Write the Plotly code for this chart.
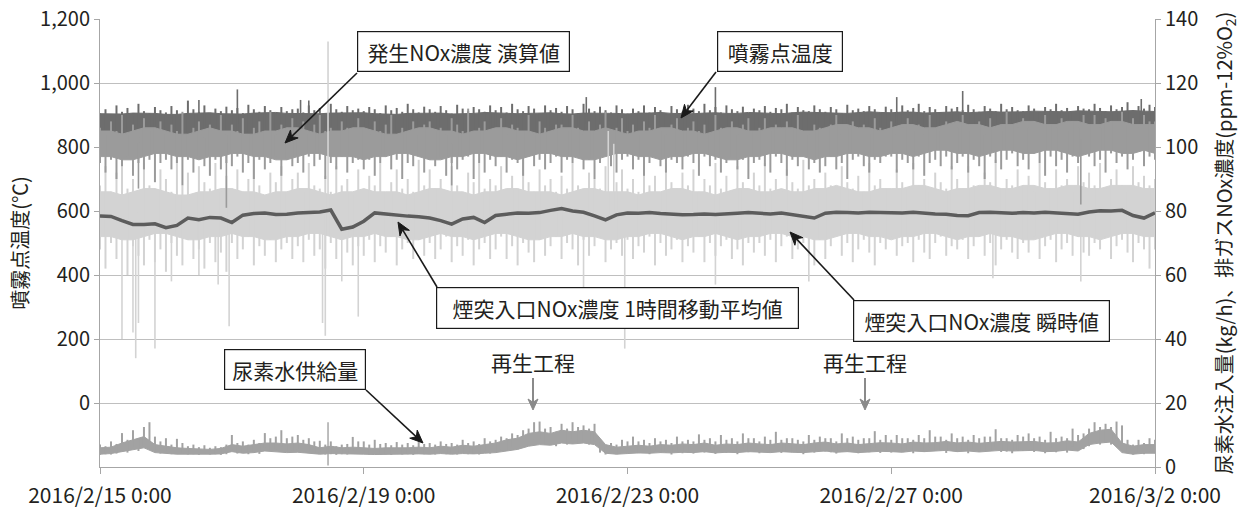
import pandas as pd
import plotly.graph_objects as go

START = "2016-02-15 00:00"

# ---- 噴霧点温度 (℃) ----
# dense core of the band, 4-hour samples
spray_core_hi = [
    904, 904, 903, 906, 906, 905, 902, 902, 905, 907, 907, 904,
    903, 903, 906, 906, 908, 905, 905, 903, 904, 906, 906, 905,
    907, 904, 904, 902, 905, 905, 907, 906, 903, 903, 905, 908,
    906, 906, 904, 905, 907, 907, 904, 903, 906, 906, 905, 905,
    903, 906, 906, 908, 905, 904, 904, 906, 907, 905, 905, 908,
    906, 906, 904, 907, 909, 908, 906, 906, 905, 908, 910, 908,
    907, 909, 909, 906, 908, 910, 910, 907, 909, 911, 909, 909,
    910, 912, 911, 909, 910, 913, 913, 911, 910, 912, 914, 912,
    911,
]
spray_core_lo = [
    840, 838, 842, 839, 841, 837, 843, 840, 838, 842, 839, 841,
    837, 841, 839, 843, 840, 838, 842, 839, 841, 837, 840, 842,
    839, 842, 838, 840, 843, 839, 841, 838, 842, 840, 837, 841,
    842, 839, 841, 837, 840, 843, 838, 841, 839, 842, 840, 838,
    840, 843, 839, 841, 838, 842, 840, 837, 841, 839, 843, 840,
    838, 841, 842, 839, 840, 837, 843, 841, 838, 840, 842, 839,
    841, 838, 840, 843, 839, 841, 837, 842, 840, 838, 841, 843,
    839, 842, 840, 838, 841, 843, 839, 840, 842, 837, 840, 841,
    840,
]
# short-term peaks, 2-hour samples
spray_peak = [
    905, 918, 900, 930, 910, 922, 898, 935, 912, 905, 925, 915,
    908, 928, 915, 902, 945, 918, 910, 930, 905, 920, 912, 926,
    915, 922, 906, 932, 918, 910, 928, 915, 904, 925, 912, 918,
    920, 908, 930, 915, 922, 905, 935, 918, 910, 928, 915, 920,
    912, 925, 918, 906, 930, 915, 922, 910, 935, 918, 908, 926,
    918, 910, 928, 915, 905, 932, 920, 912, 925, 918, 910, 930,
    915, 925, 908, 935, 918, 912, 928, 920, 905, 930, 915, 922,
    910, 928, 918, 905, 935, 920, 912, 926, 915, 908, 930, 918,
    905, 920, 912, 930, 908, 925, 915, 902, 928, 918, 910, 932,
    920, 912, 935, 915, 925, 908, 930, 918, 912, 926, 905, 920,
    915, 928, 910, 922, 918, 935, 908, 925, 915, 912, 930, 918,
    910, 925, 918, 905, 932, 915, 920, 912, 928, 918, 908, 926,
    918, 910, 930, 915, 922, 935, 912, 925, 918, 908, 928, 920,
    925, 915, 932, 918, 910, 928, 920, 912, 935, 918, 925, 915,
    912, 930, 920, 908, 925, 918, 935, 915, 922, 910, 928, 920,
    918, 935, 922, 912, 930, 918, 925, 940, 915, 928, 920, 932,
    925,
]
spray_spike_hours = [36, 50, 73, 76, 177, 224, 290, 314, 379]
spray_spike_vals = [947, 980, 947, 945, 956, 987, 956, 975, 950]

# ---- 発生NOx濃度 演算値 (ppm-12%O2) ----
calc_core_hi = [
    105, 105, 104, 105, 106, 106, 105, 104, 104, 105, 106, 105,
    105, 104, 104, 105, 105, 106, 106, 105, 104, 105, 105, 106,
    106, 105, 104, 104, 105, 106, 106, 105, 105, 104, 105, 105,
    106, 106, 105, 105, 104, 105, 106, 106, 105, 105, 106, 105,
    104, 105, 105, 106, 106, 105, 105, 104, 105, 106, 106, 105,
    105, 106, 106, 106, 105, 105, 106, 107, 107, 106, 106, 105,
    106, 107, 107, 106, 106, 107, 108, 107, 107, 106, 107, 107,
    108, 108, 107, 107, 108, 108, 107, 107, 108, 108, 107, 107,
    107,
]
calc_core_lo = [
    97, 97, 96, 96, 97, 98, 98, 97, 97, 96, 97, 97,
    98, 98, 97, 97, 96, 96, 97, 98, 98, 97, 97, 97,
    96, 97, 97, 98, 98, 97, 96, 96, 97, 97, 98, 98,
    97, 97, 96, 97, 98, 98, 97, 97, 96, 96, 97, 98,
    98, 97, 97, 96, 97, 97, 98, 98, 97, 96, 96, 97,
    97, 98, 98, 97, 97, 96, 97, 97, 98, 98, 97, 97,
    98, 98, 97, 98, 99, 99, 98, 98, 97, 98, 99, 99,
    98, 98, 99, 99, 98, 97, 98, 99, 99, 98, 98, 99,
    98,
]
calc_peak = [
    106, 104, 108, 105, 110, 104, 107, 103, 109, 105, 106, 108,
    104, 107, 105, 111, 104, 106, 108, 103, 107, 105, 110, 104,
    107, 105, 109, 104, 106, 108, 105, 111, 104, 107, 106, 109,
    105, 108, 104, 107, 110, 105, 106, 104, 108, 106, 105, 109,
    106, 104, 108, 105, 107, 110, 104, 106, 105, 108, 104, 107,
    108, 105, 106, 104, 109, 107, 105, 112, 104, 106, 108, 105,
    105, 109, 104, 107, 106, 105, 110, 104, 108, 106, 105, 107,
    107, 105, 110, 106, 104, 108, 105, 107, 111, 104, 106, 109,
    105, 107, 104, 108, 106, 110, 105, 104, 107, 109, 105, 106,
    108, 105, 107, 104, 110, 106, 105, 108, 104, 107, 109, 105,
    106, 109, 105, 107, 104, 108, 106, 110, 105, 104, 107, 106,
    105, 107, 110, 104, 106, 108, 105, 107, 104, 109, 106, 105,
    108, 104, 106, 109, 105, 107, 104, 110, 106, 105, 108, 107,
    106, 110, 105, 107, 108, 104, 109, 106, 105, 111, 107, 106,
    109, 106, 108, 105, 110, 107, 106, 109, 105, 108, 106, 110,
    107, 110, 106, 109, 108, 105, 111, 107, 109, 106, 110, 108,
    108,
]
calc_dip = [
    95, 92, 96, 90, 94, 97, 91, 95, 93, 96, 89, 95,
    96, 93, 95, 88, 96, 92, 97, 94, 91, 96, 93, 95,
    94, 97, 92, 95, 90, 96, 93, 95, 97, 91, 96, 94,
    95, 92, 97, 94, 96, 90, 95, 93, 97, 92, 95, 96,
    93, 96, 91, 95, 97, 93, 96, 90, 95, 94, 97, 92,
    96, 94, 97, 91, 95, 93, 96, 97, 90, 95, 92, 96,
    94, 97, 92, 96, 95, 91, 97, 94, 96, 93, 95, 97,
    92, 96, 95, 97, 93, 96, 90, 95, 97, 94, 92, 96,
    97, 93, 96, 91, 95, 97, 94, 92, 96, 95, 93, 97,
    95, 91, 97, 94, 96, 92, 95, 97, 93, 96, 90, 95,
    96, 94, 92, 97, 95, 91, 96, 94, 97, 93, 95, 92,
    94, 97, 93, 95, 90, 96, 97, 94, 92, 96, 95, 97,
    97, 92, 96, 95, 93, 97, 91, 95, 96, 94, 97, 93,
    95, 97, 92, 96, 94, 90, 97, 95, 93, 96, 98, 94,
    96, 93, 98, 95, 91, 97, 94, 96, 92, 97, 95, 98,
    97, 94, 96, 92, 98, 95, 97, 93, 96, 99, 94, 97,
    96,
]
calc_spike_hours = [14, 46, 128, 357]
calc_spike_vals = [87, 81, 88, 82]

# ---- 煙突入口NOx濃度 瞬時値 (ppm-12%O2) ----
inst_core_hi = [
    86, 86, 85, 86, 87, 87, 86, 85, 85, 86, 86, 87,
    87, 86, 86, 85, 86, 86, 87, 87, 86, 85, 86, 86,
    87, 86, 86, 86, 85, 86, 87, 87, 86, 86, 85, 86,
    86, 87, 87, 86, 86, 86, 85, 86, 87, 87, 86, 86,
    86, 85, 86, 86, 87, 87, 86, 86, 85, 86, 87, 87,
    86, 86, 87, 86, 86, 87, 87, 88, 87, 86, 86, 87,
    87, 87, 88, 88, 87, 86, 87, 87, 88, 88, 87, 87,
    88, 88, 87, 87, 88, 88, 87, 87, 88, 88, 88, 87,
    87,
]
inst_core_lo = [
    72, 72, 71, 71, 72, 73, 73, 72, 71, 71, 72, 72,
    73, 72, 72, 71, 71, 72, 72, 73, 73, 72, 71, 72,
    72, 73, 72, 72, 71, 71, 72, 73, 72, 72, 71, 72,
    73, 73, 72, 71, 71, 72, 72, 73, 72, 72, 71, 71,
    72, 72, 73, 73, 72, 71, 72, 72, 73, 72, 71, 72,
    72, 73, 73, 72, 72, 71, 71, 72, 73, 73, 72, 72,
    71, 72, 72, 73, 73, 72, 71, 72, 72, 73, 72, 72,
    71, 71, 72, 73, 73, 72, 72, 71, 72, 73, 73, 72,
    72,
]
inst_peak = [
    88, 94, 86, 92, 97, 87, 90, 85, 95, 88, 86, 93,
    90, 86, 96, 88, 92, 85, 94, 89, 87, 95, 86, 91,
    87, 93, 86, 90, 96, 88, 85, 92, 89, 94, 86, 90,
    92, 86, 95, 88, 87, 91, 86, 94, 88, 90, 85, 93,
    86, 91, 88, 95, 86, 89, 93, 87, 90, 86, 96, 88,
    93, 87, 90, 86, 94, 88, 86, 92, 89, 95, 87, 90,
    88, 94, 86, 91, 87, 96, 89, 86, 93, 88, 90, 86,
    91, 87, 95, 88, 86, 92, 90, 87, 94, 86, 89, 93,
    87, 90, 86, 94, 88, 91, 86, 95, 89, 87, 92, 88,
    93, 86, 90, 88, 95, 87, 91, 86, 94, 89, 87, 92,
    88, 95, 87, 90, 86, 93, 89, 87, 96, 88, 90, 86,
    92, 88, 86, 94, 89, 87, 91, 86, 95, 88, 90, 87,
    86, 93, 89, 87, 95, 88, 90, 86, 92, 89, 87, 94,
    90, 87, 94, 88, 86, 92, 89, 96, 87, 90, 88, 93,
    88, 91, 86, 95, 89, 87, 93, 88, 90, 86, 94, 89,
    92, 88, 95, 87, 90, 93, 88, 86, 94, 89, 91, 88,
    90,
]
inst_dip = [
    68, 62, 70, 65, 72, 60, 69, 66, 63, 71, 64, 68,
    61, 70, 66, 63, 71, 65, 68, 62, 70, 64, 67, 61,
    70, 65, 68, 72, 63, 69, 66, 71, 64, 68, 70, 65,
    69, 64, 71, 66, 68, 62, 70, 65, 72, 67, 63, 69,
    66, 71, 64, 69, 67, 72, 63, 68, 70, 65, 71, 66,
    70, 65, 68, 72, 64, 69, 66, 71, 63, 68, 70, 65,
    68, 72, 65, 69, 63, 70, 67, 64, 71, 66, 69, 72,
    65, 70, 68, 63, 71, 66, 69, 72, 64, 68, 70, 66,
    71, 65, 69, 67, 72, 63, 70, 66, 68, 71, 64, 69,
    67, 72, 64, 70, 66, 69, 71, 65, 68, 63, 70, 67,
    70, 66, 71, 64, 69, 72, 65, 68, 70, 66, 63, 71,
    65, 69, 72, 66, 70, 64, 68, 71, 67, 63, 70, 68,
    72, 66, 69, 70, 64, 71, 67, 65, 70, 72, 66, 69,
    68, 71, 65, 69, 72, 66, 70, 63, 68, 71, 67, 65,
    70, 67, 72, 65, 69, 71, 64, 68, 70, 66, 72, 67,
    66, 70, 68, 72, 65, 69, 71, 67, 64, 70, 68, 62,
    68,
]
inst_spike_hours = [8, 12, 13, 14, 20, 26, 36, 43, 47, 81, 82, 83, 88, 94,
                    176, 185, 187, 191, 224, 258, 325, 357]
inst_spike_vals = [40, 42, 34, 45, 37, 58, 60, 57, 44, 45, 41, 133, 58, 47,
                   53, 105, 101, 37, 57, 58, 59, 58]

# ---- 煙突入口NOx濃度 1時間移動平均値 (ppm-12%O2), 4-hour samples ----
nox_avg = [
    78.4, 78.3, 77.0, 75.8, 75.8, 76.0, 74.8, 75.5, 77.8, 77.3, 78.0, 77.8,
    76.4, 78.7, 79.2, 79.4, 78.9, 79.0, 79.4, 79.6, 79.7, 80.3, 74.3, 75.0,
    76.8, 79.4, 79.0, 78.7, 78.4, 78.2, 77.8, 77.0, 75.9, 77.5, 78.0, 76.4,
    78.6, 79.0, 79.4, 79.3, 79.5, 80.2, 80.8, 80.0, 79.6, 78.5, 77.2, 78.8,
    79.4, 79.3, 79.5, 79.2, 79.0, 78.8, 78.9, 79.1, 78.9, 79.0, 79.3, 79.5,
    79.2, 79.1, 79.4, 78.9, 78.4, 77.8, 79.3, 79.6, 79.5, 79.4, 79.6, 79.5,
    79.3, 79.4, 79.6, 79.3, 79.1, 79.0, 78.6, 78.5, 79.5, 79.6, 79.4, 79.3,
    79.5, 79.4, 79.6, 79.4, 79.3, 79.0, 79.7, 80.1, 80.0, 80.2, 78.6, 77.8,
    79.4,
]

# ---- 尿素水供給量 (kg/h) ----
urea_core_hi = [
    6.0, 6.2, 7.5, 8.5, 9.5, 7.0, 6.5, 6.0, 5.8, 5.6, 5.5, 5.8,
    7.0, 6.5, 7.0, 7.5, 7.5, 7.2, 7.5, 7.0, 6.0, 6.5, 6.0, 6.2,
    6.0, 5.8, 6.0, 5.9, 6.0, 6.2, 6.0, 6.5, 6.2, 6.8, 6.5, 7.0,
    7.5, 8.5, 9.0, 10.5, 11.0, 10.5, 11.5, 11.0, 11.5, 11.0, 7.0, 6.2,
    6.5, 6.8, 6.5, 7.0, 6.8, 7.2, 7.0, 7.5, 6.8, 7.2, 7.0, 7.5,
    7.2, 7.0, 7.5, 7.2, 7.0, 7.5, 7.8, 7.2, 7.5, 7.0, 7.4, 7.6,
    7.5, 7.2, 7.8, 7.5, 7.6, 8.0, 7.5, 7.8, 7.4, 7.6, 8.0, 7.8,
    7.8, 8.0, 7.5, 7.6, 8.2, 7.8, 10.5, 11.5, 11.8, 7.5, 6.5, 7.0,
    7.0,
]
urea_core_lo = [
    4.0, 4.2, 4.8, 5.5, 6.0, 4.5, 4.2, 4.0, 4.0, 3.9, 4.0, 4.1,
    4.8, 4.3, 4.5, 5.0, 4.8, 4.5, 4.6, 4.3, 4.0, 4.2, 4.0, 4.1,
    4.0, 3.9, 4.0, 3.9, 4.0, 4.1, 4.0, 4.2, 4.0, 4.2, 4.1, 4.3,
    4.5, 5.0, 5.5, 6.5, 7.0, 6.8, 7.5, 7.2, 7.5, 7.0, 4.3, 4.0,
    4.2, 4.4, 4.3, 4.5, 4.4, 4.6, 4.5, 4.8, 4.4, 4.6, 4.5, 4.8,
    4.6, 4.5, 4.8, 4.6, 4.5, 4.8, 5.0, 4.6, 4.8, 4.5, 4.7, 4.9,
    4.8, 4.6, 5.0, 4.8, 4.9, 5.2, 4.8, 5.0, 4.7, 4.9, 5.2, 5.0,
    5.0, 5.2, 4.8, 4.9, 5.3, 5.0, 7.0, 7.5, 7.8, 4.5, 4.0, 4.3,
    4.3,
]
urea_peak = [
    7.0, 6.5, 8.0, 7.2, 10.6, 8.5, 11.5, 9.0, 12.5, 14.0, 9.5, 8.0,
    9.0, 7.0, 8.8, 7.5, 6.5, 7.0, 6.2, 6.8, 6.0, 6.5, 6.2, 7.0,
    10.0, 7.5, 8.0, 7.0, 8.5, 7.5, 10.6, 9.0, 9.5, 11.5, 9.0, 9.5,
    10.0, 8.5, 9.0, 8.0, 8.2, 7.0, 8.0, 6.5, 7.0, 7.2, 9.4, 8.0,
    8.0, 7.0, 8.5, 7.2, 7.5, 6.8, 7.8, 7.0, 7.5, 6.8, 7.8, 7.2,
    7.5, 7.0, 8.0, 7.2, 7.5, 7.0, 8.5, 7.5, 8.0, 7.2, 9.0, 8.0,
    8.5, 9.5, 9.0, 10.5, 10.0, 11.5, 12.0, 14.0, 14.2, 12.0, 12.5, 11.0,
    13.5, 12.0, 14.0, 12.5, 13.0, 12.0, 13.5, 8.0, 6.5, 7.5, 7.0, 8.5,
    8.0, 9.5, 8.0, 8.5, 7.5, 9.0, 8.0, 8.5, 7.5, 9.5, 8.0, 8.5,
    8.0, 10.2, 8.5, 9.0, 8.0, 10.0, 8.5, 9.0, 8.0, 10.5, 9.0, 9.0,
    8.0, 9.5, 8.5, 11.0, 8.5, 9.0, 9.0, 8.5, 8.0, 10.0, 8.5, 9.5,
    9.0, 9.0, 8.0, 10.5, 9.0, 9.5, 8.5, 9.0, 9.0, 11.2, 8.5, 10.0,
    8.5, 10.0, 9.0, 9.0, 8.5, 10.0, 9.0, 11.5, 9.5, 9.5, 8.5, 10.5,
    9.0, 9.5, 8.5, 10.0, 9.0, 9.5, 9.5, 11.8, 9.0, 9.0, 8.5, 10.0,
    9.5, 10.5, 9.0, 9.5, 8.5, 11.0, 9.0, 9.5, 9.0, 12.0, 10.0, 10.5,
    12.0, 14.0, 12.5, 13.5, 12.5, 14.2, 13.0, 8.5, 7.0, 8.5, 7.5, 9.0,
    8.5,
]
urea_dip = [
    3.8, 4.0, 3.9, 4.2, 5.5, 4.5, 6.0, 5.0, 6.5, 7.5, 5.0, 4.2,
    5.0, 4.0, 5.5, 4.2, 3.9, 4.0, 3.8, 4.1, 3.9, 4.0, 3.8, 4.0,
    5.5, 4.2, 4.5, 4.0, 4.5, 4.1, 6.0, 5.0, 5.5, 6.5, 5.0, 5.2,
    5.5, 4.5, 5.0, 4.2, 4.5, 3.9, 4.0, 3.8, 4.0, 3.9, 5.0, 4.2,
    4.2, 3.9, 4.5, 4.0, 4.0, 3.8, 4.2, 3.9, 4.0, 3.8, 4.2, 4.0,
    4.0, 3.9, 4.3, 4.0, 4.1, 3.9, 4.5, 4.0, 4.3, 3.9, 4.8, 4.2,
    4.5, 5.5, 5.0, 6.0, 5.5, 6.5, 7.0, 8.5, 8.5, 7.0, 7.5, 6.5,
    8.0, 7.0, 8.5, 7.5, 7.5, 7.0, 8.0, 4.5, 3.9, 4.2, 4.0, 4.5,
    4.2, 5.0, 4.3, 4.6, 4.0, 4.8, 4.4, 4.5, 3.9, 5.0, 4.3, 4.6,
    4.2, 5.5, 4.5, 4.8, 4.1, 5.2, 4.4, 4.7, 4.0, 5.5, 4.6, 4.8,
    4.3, 5.0, 4.5, 6.0, 4.4, 4.8, 4.6, 4.5, 4.0, 5.4, 4.5, 5.0,
    4.8, 4.6, 4.2, 5.8, 4.7, 5.0, 4.3, 4.8, 4.6, 6.0, 4.4, 5.2,
    4.5, 5.5, 4.8, 4.8, 4.3, 5.3, 4.7, 6.2, 5.0, 5.0, 4.4, 5.6,
    4.8, 5.0, 4.3, 5.4, 4.7, 5.0, 5.1, 6.4, 4.7, 4.8, 4.3, 5.2,
    5.0, 5.6, 4.7, 5.0, 4.3, 6.0, 4.6, 5.0, 4.5, 6.5, 5.3, 5.6,
    6.5, 8.0, 7.0, 7.5, 7.0, 8.5, 7.0, 4.5, 3.9, 4.5, 4.0, 4.8,
    4.5,
]
urea_spike_hours = [83, 83]
urea_spike_vals = [14.0, 0.5]

x_tick_vals = ["2016-02-15", "2016-02-19", "2016-02-23", "2016-02-27", "2016-03-02"]
x_tick_text = ["2016/2/15 0:00", "2016/2/19 0:00", "2016/2/23 0:00", "2016/2/27 0:00", "2016/3/2 0:00"]
left_tick_vals = [0, 200, 400, 600, 800, 1000, 1200]
left_tick_text = ["0", "200", "400", "600", "800", "1,000", "1,200"]
right_tick_vals = [0, 20, 40, 60, 80, 100, 120, 140]

FONT = "Noto Sans CJK JP"
INK = "#231f20"
GRID = "#bfbfbf"
AXIS = "#a6a6a6"
DARK, MID, LIGHT, UREA, AVG = "#6d6d6d", "#9b9b9b", "#d3d3d3", "#a2a2a2", "#5c5c5c"

t0 = pd.Timestamp(START)
t2 = pd.date_range(START, periods=len(spray_peak), freq="2h")
t4 = pd.date_range(START, periods=len(nox_avg), freq="4h")


def core(hi, lo, color, axis):
    """Solid band between the two 4-hour envelope lines."""
    xs = list(t4) + list(t4[::-1])
    ys = list(hi) + list(lo[::-1])
    return go.Scatter(x=xs, y=ys, mode="lines", fill="toself", fillcolor=color,
                      line=dict(color=color, width=1), yaxis=axis)


def strokes(peak, dip, color, axis, width=2.0):
    """Vertical excursion strokes for every 2-hour sample."""
    xs, ys = [], []
    for t, top, bottom in zip(t2, peak, dip):
        xs += [t, t, None]
        ys += [bottom, top, None]
    return go.Scatter(x=xs, y=ys, mode="lines", line=dict(color=color, width=width),
                      yaxis=axis)


def spikes(hours, vals, hi, lo, color, axis, width=1.6):
    """Isolated excursions, drawn from the middle of the core band."""
    xs, ys = [], []
    for h, v in zip(hours, vals):
        j = min(round(h / 4), len(hi) - 1)
        t = t0 + pd.Timedelta(hours=h)
        xs += [t, t, None]
        ys += [(hi[j] + lo[j]) / 2, v, None]
    return go.Scatter(x=xs, y=ys, mode="lines", line=dict(color=color, width=width),
                      yaxis=axis)


spray_dip = [spray_core_lo[i // 2] for i in range(len(spray_peak))]

fig = go.Figure()
# 噴霧点温度 on the left axis
fig.add_trace(core(spray_core_hi, spray_core_lo, DARK, "y"))
fig.add_trace(strokes(spray_peak, spray_dip, DARK, "y"))
fig.add_trace(spikes(spray_spike_hours, spray_spike_vals, spray_core_hi, spray_core_lo, DARK, "y"))
# NOx and urea on the right axis
fig.add_trace(core(inst_core_hi, inst_core_lo, LIGHT, "y2"))
fig.add_trace(strokes(inst_peak, inst_dip, LIGHT, "y2"))
fig.add_trace(core(calc_core_hi, calc_core_lo, MID, "y2"))
fig.add_trace(strokes(calc_peak, calc_dip, MID, "y2"))
fig.add_trace(spikes(calc_spike_hours, calc_spike_vals, calc_core_hi, calc_core_lo, MID, "y2"))
fig.add_trace(spikes(inst_spike_hours, inst_spike_vals, inst_core_hi, inst_core_lo, LIGHT, "y2"))
fig.add_trace(go.Scatter(x=t4, y=nox_avg, mode="lines", yaxis="y2",
                         line=dict(color=AVG, width=3.5)))
fig.add_trace(core(urea_core_hi, urea_core_lo, UREA, "y2"))
fig.add_trace(strokes(urea_peak, urea_dip, UREA, "y2", 2.0))
fig.add_trace(spikes(urea_spike_hours, urea_spike_vals, urea_core_hi, urea_core_lo, UREA, "y2", 1.4))

# plot-area pixel frame used to place callouts and arrows
PL, PR, PT, PB = 100, 1155, 19, 467


def px(x, y):
    return (x - PL) / (PR - PL), (PB - y) / (PB - PT)


def arrow(tail, head, color, width, head_len=13, head_half=5.5):
    (x0, y0), (x1, y1) = tail, head
    dx, dy = x1 - x0, y1 - y0
    n = (dx * dx + dy * dy) ** 0.5
    ux, uy = dx / n, dy / n
    nx, ny = -uy, ux
    bx, by = x1 - ux * head_len, y1 - uy * head_len
    notch = (x1 - ux * head_len * 0.7, y1 - uy * head_len * 0.7)
    sx, sy = px(x0, y0)
    ex, ey = px(*notch)
    pts = [(x1, y1), (bx + nx * head_half, by + ny * head_half), notch,
           (bx - nx * head_half, by - ny * head_half)]
    path = "M " + " L ".join("%.5f,%.5f" % px(*p) for p in pts) + " Z"
    return [
        dict(type="line", xref="paper", yref="paper", x0=sx, y0=sy, x1=ex, y1=ey,
             line=dict(color=color, width=width)),
        dict(type="path", xref="paper", yref="paper", path=path,
             fillcolor=color, line=dict(color=color, width=1)),
    ]


shapes = []
annotations = []

callouts = [
    ("発生NOx濃度 演算値", (357, 31, 570, 72), (357, 73), (285, 143)),
    ("噴霧点温度", (717, 31, 843, 72), (716, 72), (681, 118)),
    ("煙突入口NOx濃度 1時間移動平均値", (436, 287, 799, 329), (437, 287), (398, 222)),
    ("煙突入口NOx濃度 瞬時値", (853, 300, 1110, 342), (854, 300), (790, 232)),
    ("尿素水供給量", (224, 349, 366, 390), (366, 390), (423, 443)),
]
for text, (x0, y0, x1, y1), tail, head in callouts:
    shapes += arrow(tail, head, "#1a1a1a", 1.6)
    cx, cy = px((x0 + x1) / 2, (y0 + y1) / 2)
    annotations.append(dict(
        x=cx, y=cy, xref="paper", yref="paper", text=text, showarrow=False,
        xanchor="center", yanchor="middle",
        width=x1 - x0 - 2, height=y1 - y0 - 2, borderpad=0,
        bgcolor="white", bordercolor="#1a1a1a", borderwidth=1.2,
        font=dict(family=FONT, size=21, color=INK),
    ))

# 再生工程 markers above the urea trace
for tx in (533, 865):
    lx, ly = px(tx, 362)
    annotations.append(dict(
        x=lx, y=ly, xref="paper", yref="paper", text="再生工程", showarrow=False,
        xanchor="center", yanchor="middle",
        font=dict(family=FONT, size=21, color=INK),
    ))
    shapes += arrow((tx, 378), (tx, 410), "#8a8a8a", 2, head_len=11, head_half=5)

fig.update_layout(
    width=1250, height=508,
    margin=dict(l=PL, r=1250 - PR, t=PT, b=508 - PB, autoexpand=False),
    paper_bgcolor="white", plot_bgcolor="white",
    showlegend=False, hovermode=False,
    font=dict(family=FONT, size=20, color=INK),
    xaxis=dict(
        type="date", range=[x_tick_vals[0], x_tick_vals[-1]], automargin=False,
        tickmode="array", tickvals=x_tick_vals, ticktext=x_tick_text,
        ticks="outside", ticklen=6, tickcolor=AXIS, ticklabelstandoff=4,
        showline=True, linecolor=AXIS, linewidth=1,
        showgrid=False, zeroline=False,
        tickfont=dict(family=FONT, size=21, color=INK),
    ),
    yaxis=dict(
        range=[-200, 1200], automargin=False, tickmode="array",
        tickvals=left_tick_vals, ticktext=left_tick_text,
        ticks="outside", ticklen=5, tickcolor=AXIS,
        showline=True, linecolor=AXIS, linewidth=1,
        showgrid=True, gridcolor=GRID, gridwidth=1, zeroline=False,
        tickfont=dict(family=FONT, size=20, color=INK),
        title=dict(text="噴霧点温度(℃)", standoff=6,
                   font=dict(family=FONT, size=20, color=INK)),
    ),
    yaxis2=dict(
        range=[0, 140], automargin=False, overlaying="y", side="right", anchor="x",
        tickmode="array", tickvals=right_tick_vals,
        ticks="outside", ticklen=5, tickcolor=AXIS,
        showline=True, linecolor=AXIS, linewidth=1,
        showgrid=False, zeroline=False,
        tickfont=dict(family=FONT, size=20, color=INK),
        title=dict(text="尿素水注入量(kg/h)、排ガスNOx濃度(ppm-12%O<sub>2</sub>)", standoff=20,
                   font=dict(family=FONT, size=20, color=INK)),
    ),
    shapes=shapes,
    annotations=annotations,
)

fig.write_html("out.html")
